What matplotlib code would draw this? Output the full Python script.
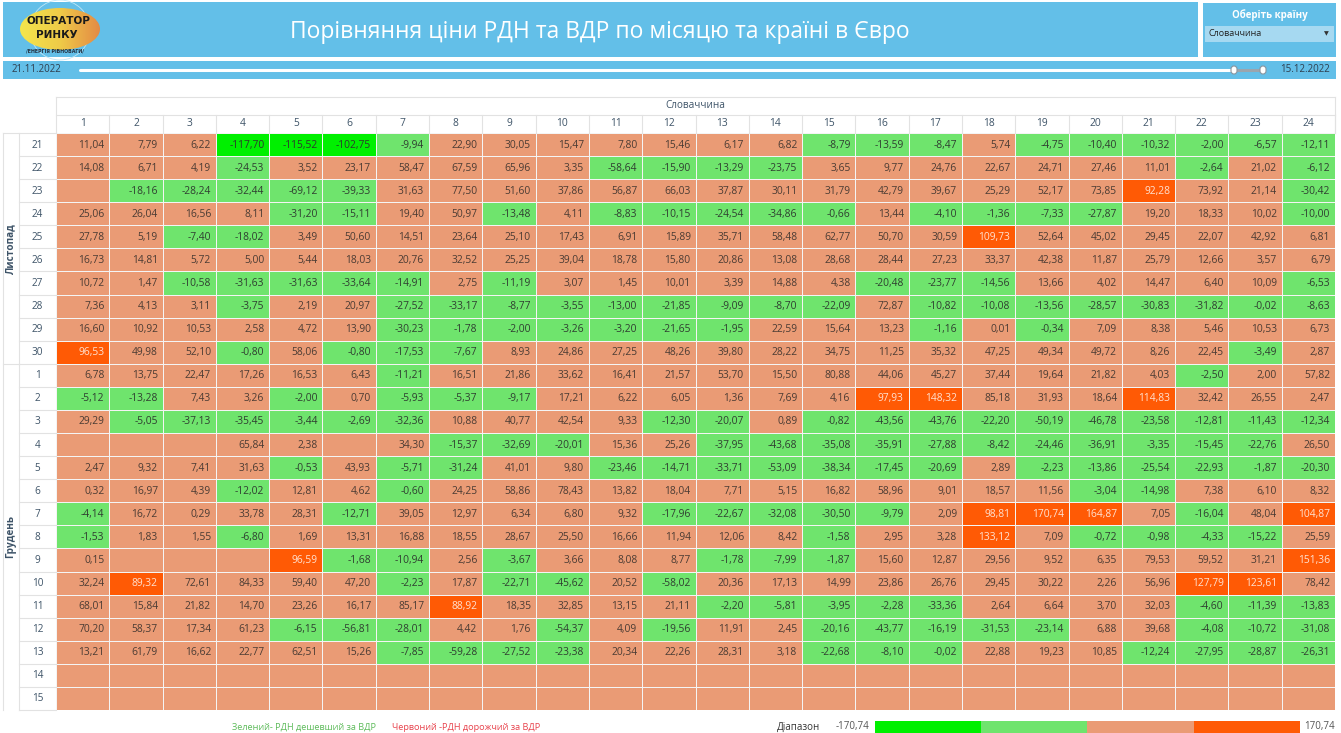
#! /usr/bin/env python3

""" Heat table: difference between DAM and IDM prices (EUR) by day and hour.
"""

import numpy as np
import matplotlib
matplotlib.use("Agg")
from matplotlib import pyplot as plt
from matplotlib.patches import Rectangle, Ellipse, Circle, FancyBboxPatch
from matplotlib.colors import ListedColormap, LinearSegmentedColormap

plt.rcParams['font.family'] = ['Open Sans', 'DejaVu Sans']

N = None

TITLE = "Порівняння ціни РДН та ВДР по місяцю та країні в Євро"
COUNTRY = "Словаччина"
PICKER_LABEL = "Оберіть країну"
DATE_FROM = "21.11.2022"
DATE_TO = "15.12.2022"
MONTHS = ["Листопад", "Грудень"]
NOV_DAYS = list(range(21, 31))
DEC_DAYS = list(range(1, 16))
HOURS = list(range(1, 25))
LEGEND_GREEN = "Зелений- РДН дешевший за ВДР"
LEGEND_RED = "Червоний -РДН дорожчий за ВДР"
RANGE_LABEL = "Діапазон"

nov_values = [
    [11.04, 7.79, 6.22, -117.70, -115.52, -102.75, -9.94, 22.90, 30.05, 15.47, 7.80, 15.46, 6.17, 6.82, -8.79, -13.59, -8.47, 5.74, -4.75, -10.40, -10.32, -2.00, -6.57, -12.11],
    [14.08, 6.71, 4.19, -24.53, 3.52, 23.17, 58.47, 67.59, 65.96, 3.35, -58.64, -15.90, -13.29, -23.75, 3.65, 9.77, 24.76, 22.67, 24.71, 27.46, 11.01, -2.64, 21.02, -6.12],
    [N, -18.16, -28.24, -32.44, -69.12, -39.33, 31.63, 77.50, 51.60, 37.86, 56.87, 66.03, 37.87, 30.11, 31.79, 42.79, 39.67, 25.29, 52.17, 73.85, 92.28, 73.92, 21.14, -30.42],
    [25.06, 26.04, 16.56, 8.11, -31.20, -15.11, 19.40, 50.97, -13.48, 4.11, -8.83, -10.15, -24.54, -34.86, -0.66, 13.44, -4.10, -1.36, -7.33, -27.87, 19.20, 18.33, 10.02, -10.00],
    [27.78, 5.19, -7.40, -18.02, 3.49, 50.60, 14.51, 23.64, 25.10, 17.43, 6.91, 15.89, 35.71, 58.48, 62.77, 50.70, 30.59, 109.73, 52.64, 45.02, 29.45, 22.07, 42.92, 6.81],
    [16.73, 14.81, 5.72, 5.00, 5.44, 18.03, 20.76, 32.52, 25.25, 39.04, 18.78, 15.80, 20.86, 13.08, 28.68, 28.44, 27.23, 33.37, 42.38, 11.87, 25.79, 12.66, 3.57, 6.79],
    [10.72, 1.47, -10.58, -31.63, -31.63, -33.64, -14.91, 2.75, -11.19, 3.07, 1.45, 10.01, 3.39, 14.88, 4.38, -20.48, -23.77, -14.56, 13.66, 4.02, 14.47, 6.40, 10.09, -6.53],
    [7.36, 4.13, 3.11, -3.75, 2.19, 20.97, -27.52, -33.17, -8.77, -3.55, -13.00, -21.85, -9.09, -8.70, -22.09, 72.87, -10.82, -10.08, -13.56, -28.57, -30.83, -31.82, -0.02, -8.63],
    [16.60, 10.92, 10.53, 2.58, 4.72, 13.90, -30.23, -1.78, -2.00, -3.26, -3.20, -21.65, -1.95, 22.59, 15.64, 13.23, -1.16, 0.01, -0.34, 7.09, 8.38, 5.46, 10.53, 6.73],
    [96.53, 49.98, 52.10, -0.80, 58.06, -0.80, -17.53, -7.67, 8.93, 24.86, 27.25, 48.26, 39.80, 28.22, 34.75, 11.25, 35.32, 47.25, 49.34, 49.72, 8.26, 22.45, -3.49, 2.87],
]

dec_values = [
    [6.78, 13.75, 22.47, 17.26, 16.53, 6.43, -11.21, 16.51, 21.86, 33.62, 16.41, 21.57, 53.70, 15.50, 80.88, 44.06, 45.27, 37.44, 19.64, 21.82, 4.03, -2.50, 2.00, 57.82],
    [-5.12, -13.28, 7.43, 3.26, -2.00, 0.70, -5.93, -5.37, -9.17, 17.21, 6.22, 6.05, 1.36, 7.69, 4.16, 97.93, 148.32, 85.18, 31.93, 18.64, 114.83, 32.42, 26.55, 2.47],
    [29.29, -5.05, -37.13, -35.45, -3.44, -2.69, -32.36, 10.88, 40.77, 42.54, 9.33, -12.30, -20.07, 0.89, -0.82, -43.56, -43.76, -22.20, -50.19, -46.78, -23.58, -12.81, -11.43, -12.34],
    [N, N, N, 65.84, 2.38, N, 34.30, -15.37, -32.69, -20.01, 15.36, 25.26, -37.95, -43.68, -35.08, -35.91, -27.88, -8.42, -24.46, -36.91, -3.35, -15.45, -22.76, 26.50],
    [2.47, 9.32, 7.41, 31.63, -0.53, 43.93, -5.71, -31.24, 41.01, 9.80, -23.46, -14.71, -33.71, -53.09, -38.34, -17.45, -20.69, 2.89, -2.23, -13.86, -25.54, -22.93, -1.87, -20.30],
    [0.32, 16.97, 4.39, -12.02, 12.81, 4.62, -0.60, 24.25, 58.86, 78.43, 13.82, 18.04, 7.71, 5.15, 16.82, 58.96, 9.01, 18.57, 11.56, -3.04, -14.98, 7.38, 6.10, 8.32],
    [-4.14, 16.72, 0.29, 33.78, 28.31, -12.71, 39.05, 12.97, 6.34, 6.80, 9.32, -17.96, -22.67, -32.08, -30.50, -9.79, 2.09, 98.81, 170.74, 164.87, 7.05, -16.04, 48.04, 104.87],
    [-1.53, 1.83, 1.55, -6.80, 1.69, 13.31, 16.88, 18.55, 28.67, 25.50, 16.66, 11.94, 12.06, 8.42, -1.58, 2.95, 3.28, 133.12, 7.09, -0.72, -0.98, -4.33, -15.22, 25.59],
    [0.15, N, N, N, 96.59, -1.68, -10.94, 2.56, -3.67, 3.66, 8.08, 8.77, -1.78, -7.99, -1.87, 15.60, 12.87, 29.56, 9.52, 6.35, 79.53, 59.52, 31.21, 151.36],
    [32.24, 89.32, 72.61, 84.33, 59.40, 47.20, -2.23, 17.87, -22.71, -45.62, 20.52, -58.02, 20.36, 17.13, 14.99, 23.86, 26.76, 29.45, 30.22, 2.26, 56.96, 127.79, 123.61, 78.42],
    [68.01, 15.84, 21.82, 14.70, 23.26, 16.17, 85.17, 88.92, 18.35, 32.85, 13.15, 21.11, -2.20, -5.81, -3.95, -2.28, -33.36, 2.64, 6.64, 3.70, 32.03, -4.60, -11.39, -13.83],
    [70.20, 58.37, 17.34, 61.23, -6.15, -56.81, -28.01, 4.42, 1.76, -54.37, 4.09, -19.56, 11.91, 2.45, -20.16, -43.77, -16.19, -31.53, -23.14, 6.88, 39.68, -4.08, -10.72, -31.08],
    [13.21, 61.79, 16.62, 22.77, 62.51, 15.26, -7.85, -59.28, -27.52, -23.38, 20.34, 22.26, 28.31, 3.18, -22.68, -8.10, -0.02, 22.88, 19.23, 10.85, -12.24, -27.95, -28.87, -26.31],
    [N] * 24,
    [N] * 24,
]

# colours of the four value bins, from most negative to most positive
BIN_COLORS = ["#00F000", "#6FE46D", "#EA9B75", "#FF5A05"]
TEXT_COLORS = ["#2C3A2C", "#2F3D30", "#4A3B33", "#FFE2D2"]
BLUE = "#63BFE8"
LINE = "#E2E2E2"
LABEL = "#3E5468"

W, H = 1341, 733
fig = plt.figure(figsize=(W / 100, H / 100), dpi=100)


def px_axes(x0, y0, x1, y1):
    """ Add an axes placed by pixel box (top-left origin). """
    ax = fig.add_axes([x0 / W, 1 - y1 / H, (x1 - x0) / W, (y1 - y0) / H])
    ax.set_axis_off()
    return ax


def fmt(v):
    return "{:.2f}".format(v).replace(".", ",")


# ---- page decorations (header, picker, slider) ----
bg = px_axes(0, 0, W, H)
bg.set_xlim(0, W)
bg.set_ylim(H, 0)

bg.add_patch(Rectangle((3, 2), 1195, 55, color=BLUE, lw=0))
bg.text(600, 32, TITLE, color="white", fontsize=16.5, ha="center", va="center")

# logo blob with gradient
blob = Ellipse((60, 29), 80, 42, transform=bg.transData)
grad = np.linspace(0, 1, 100).reshape(1, -1)
logo_cmap = LinearSegmentedColormap.from_list("logo", ["#F4E64C", "#EFCB48", "#E48B45"])
im = bg.imshow(grad, cmap=logo_cmap, extent=(20, 100, 50, 8), aspect="auto", zorder=2)
im.set_clip_path(blob)
bg.add_patch(Circle((60, 30), 30, fill=False, ec="#BFE6F6", lw=0.6, zorder=1))
bg.text(58, 21, "ОПЕРАТОР", fontsize=7.5, weight="bold", ha="center", va="center",
        color="#1A1A1A", family="DejaVu Sans", zorder=3)
bg.text(57, 35, "РИНКУ", fontsize=7.5, weight="bold", ha="center", va="center",
        color="#1A1A1A", family="DejaVu Sans", zorder=3)
bg.text(55, 51, "/ЕНЕРГІЯ РІВНОВАГИ/", fontsize=3.4, weight="bold", ha="center", va="center",
        color="#233040", family="DejaVu Sans", zorder=3)

# country picker
bg.add_patch(Rectangle((1203, 3), 133, 54, color=BLUE, lw=0))
bg.text(1270, 15, PICKER_LABEL, color="white", fontsize=7, weight="bold", ha="center", va="center")
bg.add_patch(Rectangle((1205, 26), 129, 16, color="#A6D9F1", lw=0))
bg.text(1209, 34, COUNTRY, color="#222222", fontsize=6.5, ha="left", va="center")
bg.text(1326, 34, "▼", color="#333333", fontsize=4.5, ha="center", va="center", family="DejaVu Sans")

# date slider
bg.add_patch(Rectangle((3, 61), 1333, 18, color=BLUE, lw=0))
bg.text(12, 70, DATE_FROM, color="#2E3E4E", fontsize=7, ha="left", va="center")
bg.text(1330, 70, DATE_TO, color="#2E3E4E", fontsize=7, ha="right", va="center")
bg.plot([80, 1235], [70, 70], color="white", lw=2.2, solid_capstyle="round")
bg.plot([1235, 1262], [70, 70], color="#9AA5AE", lw=2.2)
bg.add_patch(FancyBboxPatch((1231, 66), 6, 8, boxstyle="round,pad=0,rounding_size=3",
                            fc="white", ec="#8A959E", lw=0.8, zorder=4))
bg.add_patch(FancyBboxPatch((1260, 66), 6, 8, boxstyle="round,pad=0,rounding_size=3",
                            fc="white", ec="#8A959E", lw=0.8, zorder=4))

# ---- the table ----
values = np.array([[np.nan if v is None else v for v in row]
                   for row in nov_values + dec_values], dtype=float)
days = NOV_DAYS + DEC_DAYS
n_rows, n_cols = values.shape

vmax = np.nanmax(np.abs(values))
cats = np.digitize(values, [-vmax / 2, 0, vmax / 2])
cats[np.isnan(values)] = 2  # empty cells keep the salmon fill

ax = px_axes(56, 133, 1335, 710)
ax.set_xlim(0, n_cols)
ax.set_ylim(n_rows, 0)
ax.pcolormesh(np.arange(n_cols + 1), np.arange(n_rows + 1), cats,
              cmap=ListedColormap(BIN_COLORS), vmin=-0.5, vmax=3.5,
              edgecolors="#F4F4F4", linewidth=0.6)

for i in range(n_rows):
    for j in range(n_cols):
        v = values[i, j]
        if np.isnan(v):
            continue
        ax.text(j + 1 - 0.09, i + 0.52, fmt(v), ha="right", va="center",
                fontsize=7.4, color=TEXT_COLORS[cats[i, j]])

# label areas, in table units
col_w = (1335 - 56) / n_cols
row_h = (710 - 133) / n_rows
x_day = (19 - 56) / col_w
x_left = (3 - 56) / col_w
y_hours = (115 - 133) / row_h
y_top = (97 - 133) / row_h

for i, d in enumerate(days):
    ax.text((x_day) / 2, i + 0.52, str(d), ha="center", va="center",
            fontsize=7.2, color=LABEL, clip_on=False)
    ax.plot([x_day, 0], [i + 1, i + 1], color=LINE, lw=0.8, clip_on=False)

for j, h in enumerate(HOURS):
    ax.text(j + 0.5, y_hours / 2, str(h), ha="center", va="center",
            fontsize=7.4, color=LABEL, clip_on=False)
    ax.plot([j + 1, j + 1], [y_hours, 0], color=LINE, lw=0.8, clip_on=False)

ax.text(n_cols / 2, (y_hours + y_top) / 2, COUNTRY, ha="center", va="center",
        fontsize=7.2, color=LABEL, clip_on=False)

n_nov = len(NOV_DAYS)
ax.text((x_left + x_day) / 2, n_nov / 2, MONTHS[0], rotation=90, ha="center", va="center",
        fontsize=7.2, weight="bold", color=LABEL, clip_on=False)
ax.text((x_left + x_day) / 2, n_nov + (n_rows - n_nov) / 2, MONTHS[1], rotation=90,
        ha="center", va="center", fontsize=7.2, weight="bold", color=LABEL, clip_on=False)

# frame lines
ax.plot([0, n_cols], [y_top, y_top], color=LINE, lw=0.8, clip_on=False)
ax.plot([0, n_cols], [y_hours, y_hours], color=LINE, lw=0.8, clip_on=False)
ax.plot([x_left, 0], [0, 0], color=LINE, lw=0.8, clip_on=False)
ax.plot([0, 0], [y_top, 0], color=LINE, lw=0.8, clip_on=False)
ax.plot([x_left, x_left], [0, n_rows], color=LINE, lw=0.8, clip_on=False)
ax.plot([x_day, x_day], [0, n_rows], color=LINE, lw=0.8, clip_on=False)
ax.plot([x_left, x_day], [n_nov, n_nov], color=LINE, lw=0.8, clip_on=False)
ax.plot([n_cols, n_cols], [y_top, 0], color=LINE, lw=0.8, clip_on=False)

# ---- legend ----
bg.text(232, 727, LEGEND_GREEN, color="#5DBB5A", fontsize=6.6, ha="left", va="center")
bg.text(392, 727, LEGEND_RED, color="#E8424C", fontsize=6.6, ha="left", va="center")
bg.text(777, 727, RANGE_LABEL, color="#333333", fontsize=7, ha="left", va="center")
bg.text(836, 727, fmt(-vmax), color="#555555", fontsize=7, ha="left", va="center")
bg.text(1304, 727, fmt(vmax), color="#555555", fontsize=7, ha="left", va="center")

cb = px_axes(875, 721, 1300, 735)
cb.imshow(np.arange(len(BIN_COLORS)).reshape(1, -1), cmap=ListedColormap(BIN_COLORS),
          aspect="auto", interpolation="nearest")

fig.savefig("out.png", dpi=100)
